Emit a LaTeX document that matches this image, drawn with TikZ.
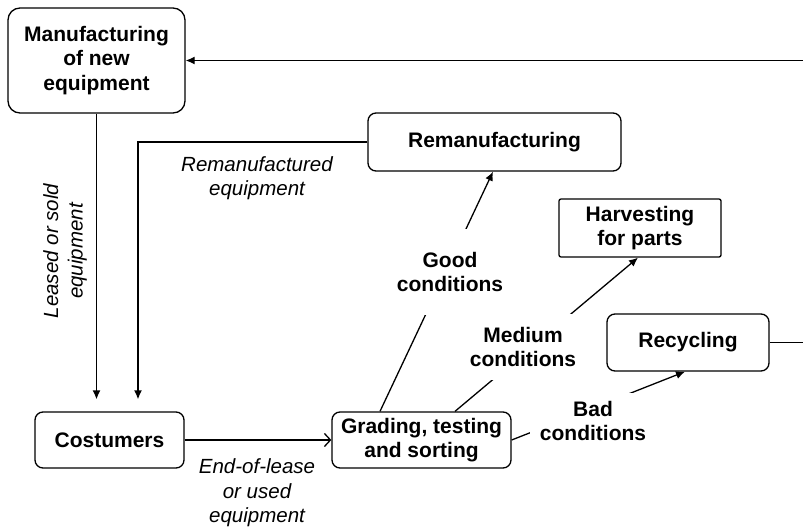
\documentclass[tikz,border=0pt]{standalone}
\usepackage{fontspec}
\setmainfont{Liberation Sans}
\usetikzlibrary{arrows.meta,calc}
\begin{document}
\begin{tikzpicture}[x=1pt,y=-1pt,
  box/.style={draw, line width=1.3pt, rounded corners=8pt, align=center, inner sep=0pt,
    font=\bfseries\fontsize{21}{24.5}\selectfont},
  cond/.style={fill=white, align=center, inner xsep=10pt,
    font=\bfseries\fontsize{21}{24.5}\selectfont},
  flow/.style={align=center, inner sep=0pt,
    font=\itshape\fontsize{20.5}{24.5}\selectfont},
  conn/.style={line width=1.3pt},
  arr/.style={conn, -{Latex[length=9pt,width=8pt]}},
  openarr/.style={conn, -{Straight Barb[length=6pt,width=13pt,line width=1.3pt]}}]
\useasboundingbox (0,0) rectangle (803,530);
\clip (0,0) rectangle (803,530);

% process boxes
\node[box, minimum width=177pt, minimum height=105pt, rounded corners=12pt] (man) at (96.5,60.5) {Manufacturing\\of new\\equipment};
\node[box, minimum width=253pt, minimum height=58pt] (reman) at (494.5,142) {Remanufacturing};
\node[box, minimum width=162pt, minimum height=58pt, rounded corners=2pt] (harv) at (640,228) {Harvesting\\for parts};
\node[box, minimum width=162pt, minimum height=57pt] (recyc) at (688,342.5) {Recycling};
\node[box, minimum width=149pt, minimum height=56pt] (cost) at (109.5,440) {Costumers};
\node[box, minimum width=179pt, minimum height=56pt] (grade) at (421.5,440) {Grading, testing\\and sorting};

% return loop from recycling back to manufacturing
\coordinate (loop) at (815,342.5);
\draw[arr] (recyc.east) -- (loop) |- (man.east);

% equipment flows to the costumers
\draw[arr, shorten >=12pt] (man.south) -- (man.south |- cost.north);
\draw[arr, shorten >=12pt] (reman.west) -| ([xshift=28.5pt]cost.north);

% returns to grading
\draw[openarr] (cost.east) -- (grade.west);

% grading outcomes
\draw[arr] ([xshift=-41.5pt]grade.north) -- ([xshift=-1.5pt]reman.south);
\draw[arr] ([xshift=33.5pt]grade.north) -- ([xshift=-2pt]harv.south);
\draw[arr] (grade.east) -- ([xshift=-3pt]recyc.south);

% condition labels on the outcome arrows
\node[cond, inner ysep=23pt] (good) at (450,272) {Good\\conditions};
\node[cond, inner ysep=13pt] (medium) at (523,347) {Medium\\conditions};
\node[cond, inner ysep=8pt] (bad) at (593,421) {Bad\\conditions};

% flow labels
\node[flow] (remaneq) at (257,178) {Remanufactured\\equipment};
\node[flow, rotate=90] (leased) at (65,251) {Leased or sold\\equipment};
\node[flow] (endlease) at (257,493) {End-of-lease\\or used\\equipment};
\end{tikzpicture}
\end{document}
